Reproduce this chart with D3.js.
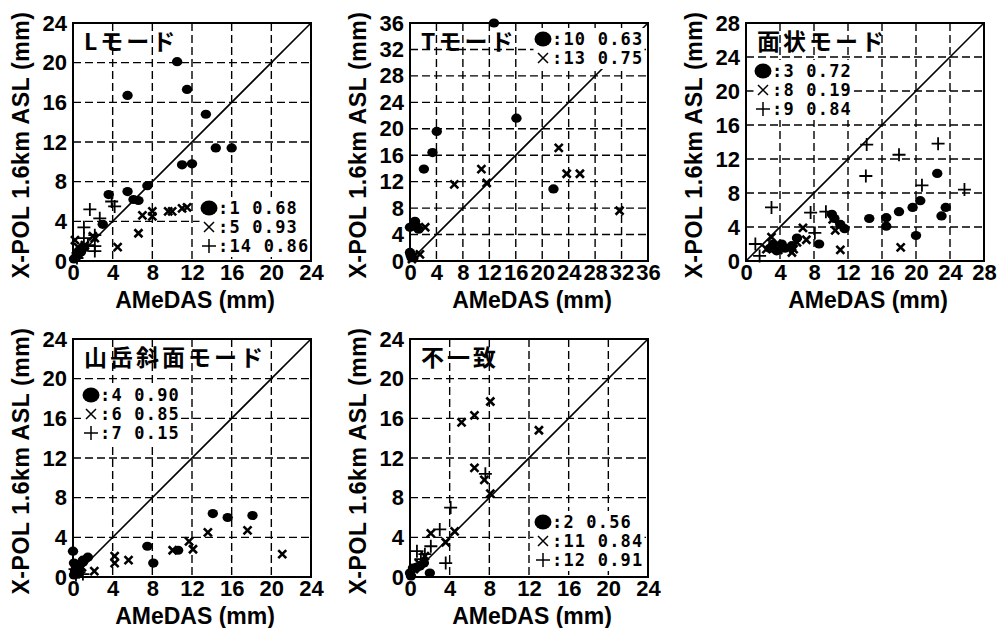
<!DOCTYPE html>
<html>
<head>
<meta charset="utf-8">
<script src="https://cdn.jsdelivr.net/npm/d3@7"></script>
<style>
  body { margin: 0; background: #fff; }
  svg { display: block; }
</style>
</head>
<body>
<svg id="chart" width="999" height="628"></svg>
<script>
// --- data: [AMeDAS, X-POL] in mm ---

// Lモード
const lDots = [[10.5,20.1],[11.5,17.3],[5.5,16.7],[13.4,14.8],[14.4,11.4],[16.0,11.4],[11.0,9.7],[12.0,9.8],[7.5,7.6],[5.5,7.0],[3.6,6.7],[6.1,6.2],[6.6,6.1],[3.0,3.7],[0.3,0.4],[0.5,0.7],[0.1,0.2],[0.8,0.9],[1.0,1.3]];
const lCross = [[0.2,2.1],[0.5,1.4],[1.2,1.6],[2.0,2.5],[2.2,2.3],[4.5,1.4],[6.6,2.8],[7.0,4.6],[8.0,5.0],[8.0,4.5],[9.6,5.0],[10.0,5.0],[11.0,5.3],[11.5,5.4],[0.3,0.5],[0.6,0.9]];
const lPlus = [[1.7,5.2],[2.7,4.3],[1.1,3.4],[2.2,2.6],[2.2,1.5],[2.2,1.0],[1.1,2.3],[3.9,6.0],[4.2,5.5],[0.7,1.0],[1.5,1.6],[0.4,0.3]];
const lLegend = [':1 0.68', ':5 0.93', ':14 0.86'];
const lTicks = [0, 4, 8, 12, 16, 20, 24];

// Tモード
const tDots = [[12.7,36.0],[4.05,19.6],[3.4,16.4],[2.1,13.9],[16.1,21.6],[21.7,10.9],[0.4,5.3],[0.75,6.0],[1.3,4.8],[0.0,5.1],[1.0,5.2],[0.0,1.3],[0.25,0.5],[0.1,0.9]];
const tCross = [[22.5,17.1],[23.7,13.2],[25.7,13.2],[10.8,13.9],[6.7,11.6],[11.6,11.8],[31.7,7.6],[2.3,5.1],[1.5,1.0],[0.3,0.3],[0.6,0.8]];
const tLegend = [':10 0.63', ':13 0.75'];
const tTicks = [0, 4, 8, 12, 16, 20, 24, 28, 32, 36];

// 面状モード
const sDots = [[22.5,10.3],[20.5,7.1],[19.6,6.3],[18.0,5.8],[14.5,5.0],[16.5,5.1],[16.5,4.1],[23.5,6.3],[23.0,5.3],[20.0,3.0],[10.1,5.5],[11.1,4.3],[11.6,3.8],[10.4,5.0],[8.6,2.0],[6.0,2.7],[3.2,2.0],[4.2,2.0],[2.8,1.5],[5.4,1.8],[3.6,1.2],[4.6,1.5]];
const sCross = [[18.2,1.6],[11.1,1.3],[6.7,3.9],[7.1,2.5],[10.2,4.9],[10.5,3.6],[5.6,1.4],[4.8,1.6],[3.8,1.3],[2.4,1.4],[3.0,2.8],[6.0,2.2],[5.4,1.0]];
const sPlus = [[22.6,13.8],[18.0,12.5],[14.2,13.7],[14.1,10.0],[20.7,8.9],[25.7,8.4],[3.0,6.3],[7.6,5.7],[9.4,5.8],[8.1,3.3],[1.1,2.0],[1.6,0.6]];
const sLegend = [':3 0.72', ':8 0.19', ':9 0.84'];
const sTicks = [0, 4, 8, 12, 16, 20, 24, 28];

// 山岳斜面モード
const mDots = [[14.1,6.4],[15.6,6.0],[18.1,6.2],[7.5,3.1],[8.1,1.4],[10.6,2.7],[0.0,2.6],[1.5,2.0],[1.0,1.7],[0.1,1.4],[0.2,0.6],[0.5,0.3],[0.3,1.0],[0.6,0.8],[1.0,1.5],[0.1,0.2]];
const mCross = [[21.1,2.3],[17.6,4.7],[13.6,4.5],[11.7,3.6],[12.1,2.8],[10.05,2.7],[5.6,1.7],[4.2,2.1],[4.2,1.4],[2.15,0.6],[0.9,1.0],[0.4,0.4]];
const mPlus = [[0.3,0.2],[0.6,0.5],[0.2,0.8],[1.0,0.3]];
const mLegend = [':4 0.90', ':6 0.85', ':7 0.15'];
const mTicks = [0, 4, 8, 12, 16, 20, 24];

// 不一致
const fDots = [[2.0,0.4],[0.0,0.4],[0.3,0.9],[1.4,1.4],[0.7,1.0],[0.1,0.1],[1.0,1.1]];
const fCross = [[8.1,17.7],[6.5,16.3],[5.2,15.6],[13.0,14.8],[6.5,11.0],[7.5,9.8],[8.1,8.4],[4.5,4.6],[2.1,4.4],[3.6,3.5],[1.5,2.1],[0.9,1.4],[0.4,0.8]];
const fPlus = [[7.6,10.4],[4.1,7.0],[3.0,4.8],[2.1,3.1],[0.7,2.6],[3.6,1.4],[1.5,2.3],[1.1,1.8],[0.3,0.6]];
const fLegend = [':2 0.56', ':11 0.84', ':12 0.91'];
const fTicks = [0, 4, 8, 12, 16, 20, 24];

const panels = [
  { title: 'Lモード', ticks: lTicks, dots: lDots, cross: lCross, plus: lPlus, legend: lLegend, left: 73, top: 23, legX: 136, legY: 185 },
  { title: 'Tモード', ticks: tTicks, dots: tDots, cross: tCross, plus: [], legend: tLegend, left: 410, top: 23, legX: 133, legY: 16 },
  { title: '面状モード', ticks: sTicks, dots: sDots, cross: sCross, plus: sPlus, legend: sLegend, left: 746, top: 23, legX: 17, legY: 48 },
  { title: '山岳斜面モード', ticks: mTicks, dots: mDots, cross: mCross, plus: mPlus, legend: mLegend, left: 73, top: 339, legX: 18, legY: 56 },
  { title: '不一致', ticks: fTicks, dots: fDots, cross: fCross, plus: fPlus, legend: fLegend, left: 410, top: 339, legX: 133, legY: 183 },
];

const W = 238, H = 238;
const svg = d3.select('#chart');
const sansBold = "'Liberation Sans', Arial, sans-serif";
const cjk = "'Noto Sans CJK JP', sans-serif";
const mono = "'DejaVu Sans Mono', monospace";

const crossPath = (s) => `M${-s},${-s}L${s},${s}M${-s},${s}L${s},${-s}`;
const plusPath = (s) => `M${-s},0H${s}M0,${-s}V${s}`;

panels.forEach((p) => {
  const max = p.ticks[p.ticks.length - 1];
  const x = d3.scaleLinear().domain([0, max]).range([0, W]);
  const y = d3.scaleLinear().domain([0, max]).range([H, 0]);

  const g = svg.append('g').attr('transform', `translate(${p.left},${p.top})`);

  // dashed grid
  const inner = p.ticks.slice(1, -1);
  g.selectAll('.gx').data(inner).enter().append('line')
    .attr('x1', (d) => x(d)).attr('x2', (d) => x(d))
    .attr('y1', 0).attr('y2', H)
    .attr('stroke', '#000').attr('stroke-width', 1.4).attr('stroke-dasharray', '8,4');
  g.selectAll('.gy').data(inner).enter().append('line')
    .attr('y1', (d) => y(d)).attr('y2', (d) => y(d))
    .attr('x1', 0).attr('x2', W)
    .attr('stroke', '#000').attr('stroke-width', 1.4).attr('stroke-dasharray', '8,4');

  // 1:1 line
  g.append('line')
    .attr('x1', x(0)).attr('y1', y(0)).attr('x2', x(max)).attr('y2', y(max))
    .attr('stroke', '#000').attr('stroke-width', 1.6);

  // axes
  const xAxis = g.append('g').attr('transform', `translate(0,${H})`)
    .call(d3.axisBottom(x).tickValues(p.ticks).tickSize(0).tickPadding(2).tickFormat(d3.format('d')));
  const yAxis = g.append('g')
    .call(d3.axisLeft(y).tickValues(p.ticks).tickSize(0).tickPadding(6).tickFormat(d3.format('d')));
  [xAxis, yAxis].forEach((a) => {
    a.select('.domain').remove();
    a.selectAll('text')
      .attr('fill', '#000')
      .style('font-family', sansBold)
      .style('font-weight', 'bold')
      .style('font-size', '22px');
  });
  xAxis.selectAll('text').attr('dy', '0.76em');

  // axis titles
  g.append('text')
    .attr('x', W / 2 + 3).attr('y', H + 47)
    .attr('text-anchor', 'middle')
    .style('font-family', sansBold).style('font-weight', 'bold').style('font-size', '23px')
    .text('AMeDAS (mm)');
  g.append('text')
    .attr('transform', `translate(-44,${H / 2 + 3}) rotate(-90)`)
    .attr('text-anchor', 'middle')
    .style('font-family', sansBold).style('font-weight', 'bold').style('font-size', '23px')
    .style('letter-spacing', '0.6px')
    .text('X-POL 1.6km ASL (mm)');

  // title
  g.append('text')
    .attr('x', 11).attr('y', 27)
    .style('font-family', cjk).style('font-weight', 'bold').style('font-size', '23px')
    .style('letter-spacing', '3px')
    .text(p.title);

  // markers
  g.selectAll('.dot').data(p.dots).enter().append('ellipse')
    .attr('cx', (d) => x(d[0])).attr('cy', (d) => y(d[1]))
    .attr('rx', 5.2).attr('ry', 4.6).attr('fill', '#000');
  g.selectAll('.cross').data(p.cross).enter().append('path')
    .attr('transform', (d) => `translate(${x(d[0])},${y(d[1])})`)
    .attr('d', crossPath(4)).attr('stroke', '#000').attr('stroke-width', 2.6).attr('fill', 'none');
  g.selectAll('.plus').data(p.plus).enter().append('path')
    .attr('transform', (d) => `translate(${x(d[0])},${y(d[1])})`)
    .attr('d', plusPath(6.5)).attr('stroke', '#000').attr('stroke-width', 1.8).attr('fill', 'none');

  // legend (white box behind it hides the grid)
  const leg = g.append('g').attr('transform', `translate(${p.legX},${p.legY})`);
  const legBg = leg.append('rect').attr('fill', '#fff');
  p.legend.forEach((label, i) => {
    const row = leg.append('g').attr('transform', `translate(0,${i * 19})`);
    if (i === 0) {
      row.append('ellipse').attr('rx', 8.5).attr('ry', 7.5).attr('fill', '#000');
    } else if (i === 1) {
      row.append('path').attr('d', crossPath(5)).attr('stroke', '#000').attr('stroke-width', 1.5);
    } else {
      row.append('path').attr('d', plusPath(7)).attr('stroke', '#000').attr('stroke-width', 1.5);
    }
    row.append('text')
      .attr('x', 9).attr('y', 6)
      .style('font-family', mono).style('font-weight', 'bold').style('font-size', '17px')
      .style('letter-spacing', '1.2px')
      .text(label);
  });
  const bb = leg.node().getBBox();
  legBg.attr('x', bb.x - 1).attr('y', bb.y - 1).attr('width', bb.width + 2).attr('height', bb.height + 2);

  // frame on top
  g.append('rect').attr('width', W).attr('height', H)
    .attr('fill', 'none').attr('stroke', '#000').attr('stroke-width', 2);
});
</script>
</body>
</html>
